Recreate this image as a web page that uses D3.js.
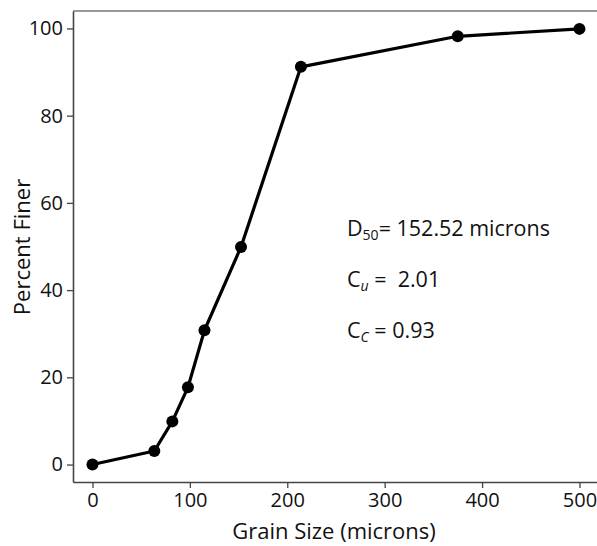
<!DOCTYPE html>
<html><head><meta charset="utf-8">
<script src="https://cdn.jsdelivr.net/npm/d3@7"></script>
<style>body{margin:0;background:#fff}svg{display:block}text{font-family:"Open Sans",sans-serif;fill:#111}</style>
</head><body><svg id="c" width="597" height="546"></svg>
<script>
const grainSize = [0, 63.5, 82, 98, 115, 152.5, 214, 375, 500];
const percentFiner = [0, 3.1, 9.9, 17.7, 30.8, 49.9, 91.2, 98.2, 99.9];
const xTicks = [0, 100, 200, 300, 400, 500];
const yTicks = [0, 20, 40, 60, 80, 100];
const annotations = [
  {main: "D", sub: "50", subItalic: false, rest: "= 152.52 microns"},
  {main: "C", sub: "u", subItalic: true, rest: " =  2.01"},
  {main: "C", sub: "C", subItalic: true, rest: " = 0.93"}
];

const svg = d3.select("#c");
const x = d3.scaleLinear().domain([-20, 518]).range([73, 597]);
const y = d3.scaleLinear().domain([-4, 104]).range([482, 11]);

// top border
svg.append("line").attr("x1", 73).attr("x2", 597).attr("y1", 11).attr("y2", 11)
  .attr("stroke", "#999").attr("stroke-width", 2);

const xAxis = svg.append("g").attr("transform", "translate(0,482)")
  .call(d3.axisBottom(x).tickValues(xTicks).tickSize(6).tickPadding(5).tickSizeOuter(0));
const yAxis = svg.append("g").attr("transform", "translate(73,0)")
  .call(d3.axisLeft(y).tickValues(yTicks).tickSize(6).tickPadding(4).tickSizeOuter(0));
[xAxis, yAxis].forEach(a => {
  a.attr("font-size", null).attr("font-family", null);
  a.select(".domain").attr("stroke", "#444").attr("stroke-width", 1.6);
  a.selectAll(".tick line").attr("stroke", "#444").attr("stroke-width", 1.3);
  a.selectAll(".tick text").style("font-size", "20px").style("font-family", "Open Sans").attr("fill", "#111");
});

const pts = grainSize.map((g, i) => [g, percentFiner[i]]);
svg.append("path").datum(pts)
  .attr("d", d3.line().x(d => x(d[0])).y(d => y(d[1])))
  .attr("fill", "none").attr("stroke", "#000").attr("stroke-width", 3.2).attr("stroke-linejoin", "round");
svg.selectAll("circle.pt").data(pts).join("circle").attr("class", "pt")
  .attr("cx", d => x(d[0])).attr("cy", d => y(d[1])).attr("r", 6).attr("fill", "#000");

// axis titles
svg.append("text").attr("x", 334).attr("y", 539).attr("text-anchor", "middle")
  .style("font-size", "22px").text("Grain Size (microns)");
svg.append("text").attr("transform", "translate(30,247) rotate(-90)").attr("text-anchor", "middle")
  .style("font-size", "22px").text("Percent Finer");

// annotations
const baselines = [236, 287, 337.5];
annotations.forEach((a, i) => {
  const t = svg.append("text").attr("x", 347).attr("y", baselines[i])
    .style("font-size", "21.5px").style("white-space", "pre");
  t.append("tspan").text(a.main);
  t.append("tspan").style("font-size", "14px").attr("dy", 4).attr("font-style", a.subItalic ? "italic" : "normal").text(a.sub);
  t.append("tspan").attr("dy", -4).text(a.rest);
});
</script></body></html>
